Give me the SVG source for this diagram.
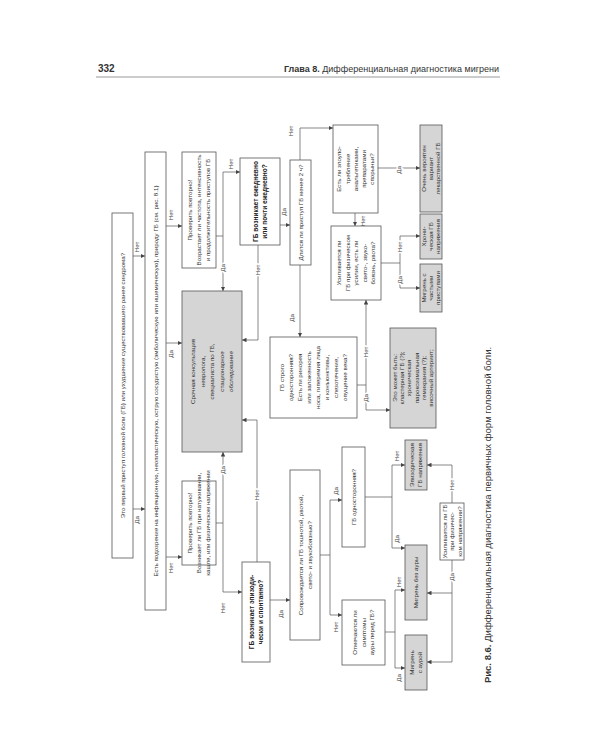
<svg xmlns="http://www.w3.org/2000/svg" width="600" height="750" viewBox="0 0 600 750">
<style>
.bg{fill:#fff}
.b{fill:#fff;stroke:#555;stroke-width:0.8}
.g{fill:#d5d5d5;stroke:#555;stroke-width:0.8}
.t{font-family:"Liberation Sans",Arial,sans-serif;font-size:6.2px;fill:#333;text-anchor:middle}
.tb{font-weight:bold;font-size:6.6px;fill:#222}
.lb{font-family:"Liberation Sans",Arial,sans-serif;font-size:6.2px;fill:#444;text-anchor:middle;stroke:#fff;stroke-width:3;paint-order:stroke}
.c{fill:none;stroke:#555;stroke-width:0.7}
.a{marker-end:url(#ah)}
.hd{font-family:"Liberation Sans",Arial,sans-serif;fill:#333}
</style>
<defs>
<marker id="ah" viewBox="0 0 6 6" refX="6" refY="3" markerWidth="4.5" markerHeight="4.5" markerUnits="userSpaceOnUse" orient="auto">
<path d="M0,0 L6,3 L0,6 z" fill="#444"/>
</marker>
</defs>
<rect class="bg" x="0" y="0" width="600" height="750"/>
<g id="header">
<text class="hd" x="98" y="72" font-size="10" font-weight="bold">332</text>
<text class="hd" x="499" y="72" font-size="9" text-anchor="end"><tspan font-weight="bold">Глава 8.</tspan> Дифференциальная диагностика мигрени</text>
<line x1="96" y1="77" x2="500" y2="77" stroke="#999" stroke-width="1.2"/>
</g>
<g id="connectors">
<path class="c a" d="M133,256 H145"/>
<path class="c a" d="M133,509 H145"/>
<path class="c a" d="M166,226 H182"/>
<path class="c a" d="M166,343 H182"/>
<path class="c a" d="M166,557 H182"/>
<path class="c" d="M216,236 H223"/>
<path class="c a" d="M223,236 V172 H240"/>
<path class="c a" d="M223,236 V291"/>
<path class="c" d="M216,523 H223"/>
<path class="c a" d="M223,523 V452"/>
<path class="c a" d="M223,523 V592 H242"/>
<path class="c a" d="M280,225 H290"/>
<path class="c a" d="M258,245 V340 H242"/>
<path class="c a" d="M257,562 V420 H242"/>
<path class="c a" d="M270,600 H290"/>
<path class="c a" d="M300,160 V128 H333"/>
<path class="c a" d="M300,265 V337"/>
<path class="c a" d="M378,168 H420"/>
<path class="c a" d="M355,213 V226"/>
<path class="c" d="M381,263 H400"/>
<path class="c a" d="M400,263 V236 H420"/>
<path class="c a" d="M400,263 V288 H420"/>
<path class="c" d="M357,385 H366"/>
<path class="c a" d="M366,385 V300"/>
<path class="c a" d="M366,385 V410 H390"/>
<path class="c" d="M320,555 H330"/>
<path class="c a" d="M330,555 V500 H342"/>
<path class="c a" d="M330,555 V615 H342"/>
<path class="c" d="M365,497 H392"/>
<path class="c a" d="M392,497 V465 H405"/>
<path class="c a" d="M392,497 V548 H405"/>
<path class="c" d="M385,632 H395"/>
<path class="c a" d="M395,632 V590 H405"/>
<path class="c a" d="M395,632 V668 H405"/>
<path class="c a" d="M452,503 V465 H427"/>
<path class="c a" d="M452,560 V662 H427"/>
<path class="c a" d="M452,593 H427"/>
<text class="lb" transform="translate(139,247) rotate(-90)">Нет</text>
<text class="lb" transform="translate(139,520) rotate(-90)">Да</text>
<text class="lb" transform="translate(173,215) rotate(-90)">Нет</text>
<text class="lb" transform="translate(173,354) rotate(-90)">Да</text>
<text class="lb" transform="translate(173,568) rotate(-90)">Нет</text>
<text class="lb" transform="translate(233,164) rotate(-90)">Нет</text>
<text class="lb" transform="translate(225,268) rotate(-90)">Да</text>
<text class="lb" transform="translate(225,470) rotate(-90)">Да</text>
<text class="lb" transform="translate(225,608) rotate(-90)">Нет</text>
<text class="lb" transform="translate(286,212) rotate(-90)">Да</text>
<text class="lb" transform="translate(260,270) rotate(-90)">Нет</text>
<text class="lb" transform="translate(259,495) rotate(-90)">Нет</text>
<text class="lb" transform="translate(283,614) rotate(-90)">Да</text>
<text class="lb" transform="translate(293,131) rotate(-90)">Нет</text>
<text class="lb" transform="translate(294,318) rotate(-90)">Да</text>
<text class="lb" transform="translate(401,170) rotate(-90)">Да</text>
<text class="lb" transform="translate(365,221) rotate(-90)">Нет</text>
<text class="lb" transform="translate(402,247) rotate(-90)">Нет</text>
<text class="lb" transform="translate(402,280) rotate(-90)">Да</text>
<text class="lb" transform="translate(368,352) rotate(-90)">Нет</text>
<text class="lb" transform="translate(368,398) rotate(-90)">Да</text>
<text class="lb" transform="translate(338,491) rotate(-90)">Да</text>
<text class="lb" transform="translate(338,627) rotate(-90)">Нет</text>
<text class="lb" transform="translate(399,456) rotate(-90)">Нет</text>
<text class="lb" transform="translate(399,539) rotate(-90)">Да</text>
<text class="lb" transform="translate(401,582) rotate(-90)">Нет</text>
<text class="lb" transform="translate(401,678) rotate(-90)">Да</text>
<text class="lb" transform="translate(454,485) rotate(-90)">Нет</text>
<text class="lb" transform="translate(454,577) rotate(-90)">Да</text>
</g>
<g id="n1"><rect class="b" x="112" y="213" width="21" height="345"/>
<text class="t" font-size="7" transform="translate(122.5,385.5) rotate(-90)" y="2.4">Это первый приступ головной боли (ГБ) или ухудшение существовавшего ранее синдрома?</text></g>
<g id="n2"><rect class="b" x="145" y="152" width="21" height="458"/>
<text class="t" font-size="6" transform="translate(155.5,381) rotate(-90)" y="2.1">Есть подозрение на инфекционную, неопластическую, острую сосудистую (эмболическую или ишемическую), природу ГБ (см. рис. 8.1)</text></g>
<g id="n3"><rect class="b" x="182" y="152" width="34" height="116"/>
<text class="t" transform="translate(199,210) rotate(-90)"><tspan x="0" y="-6.8">Проверить повторно!</tspan><tspan x="0" y="2.2">Возрастает ли частота, интенсивность</tspan><tspan x="0" y="11.2">и продолжительность приступов ГБ</tspan></text></g>
<g id="n4"><rect class="g" x="182" y="291" width="60" height="161"/>
<text class="t" font-size="6.4" transform="translate(212,371.5) rotate(-90)"><tspan x="0" y="-16.8">Срочная консультация</tspan><tspan x="0" y="-7.3">невролога,</tspan><tspan x="0" y="2.2">специалиста по ГБ,</tspan><tspan x="0" y="11.7">стационарное</tspan><tspan x="0" y="21.2">обследование</tspan></text></g>
<g id="n5"><rect class="b" x="182" y="481" width="34" height="84"/>
<text class="t" transform="translate(199,523) rotate(-90)"><tspan x="0" y="-6.8">Проверить повторно!</tspan><tspan x="0" y="2.2">Возникает ли ГБ при натуживании,</tspan><tspan x="0" y="11.2">кашле, или физическом напряжении</tspan></text></g>
<g id="n6"><rect class="b" x="240" y="158" width="40" height="87"/>
<text class="t tb" transform="translate(260,201.5) rotate(-90)"><tspan x="0" y="-2.2">ГБ возникает ежедневно</tspan><tspan x="0" y="6.8">или почти ежедневно?</tspan></text></g>
<g id="n7"><rect class="b" x="242" y="562" width="28" height="100"/>
<text class="t tb" transform="translate(256,612) rotate(-90)"><tspan x="0" y="-2.2">ГБ возникает эпизоди-</tspan><tspan x="0" y="6.8">чески и спонтанно?</tspan></text></g>
<g id="n8"><rect class="b" x="290" y="160" width="21" height="105"/>
<text class="t" transform="translate(300.5,212.5) rotate(-90)" y="2.2">Длится ли приступ ГБ менее 2 ч?</text></g>
<g id="n9"><rect class="b" x="333" y="125" width="45" height="88"/>
<text class="t" transform="translate(355.5,169) rotate(-90)"><tspan x="0" y="-14.2">Есть ли злоупо-</tspan><tspan x="0" y="-6">требление</tspan><tspan x="0" y="2.2">анальгетиками,</tspan><tspan x="0" y="10.4">препаратами</tspan><tspan x="0" y="18.6">спорыньи?</tspan></text></g>
<g id="n10"><rect class="g" x="420" y="125" width="22" height="87"/>
<text class="t" transform="translate(431,168.5) rotate(-90)"><tspan x="0" y="-4.8">Очень вероятен</tspan><tspan x="0" y="2.2">вариант</tspan><tspan x="0" y="9.2">лекарственной ГБ</tspan></text></g>
<g id="n11"><rect class="b" x="331" y="226" width="50" height="74"/>
<text class="t" transform="translate(356,263) rotate(-90)"><tspan x="0" y="-14.8">Усиливается ли</tspan><tspan x="0" y="-6.3">ГБ при физическом</tspan><tspan x="0" y="2.2">усилии, есть ли</tspan><tspan x="0" y="10.7">свето-, звуко-</tspan><tspan x="0" y="19.2">боязнь, рвота?</tspan></text></g>
<g id="n12"><rect class="g" x="420" y="214" width="22" height="45"/>
<text class="t" transform="translate(431,236.5) rotate(-90)"><tspan x="0" y="-4.8">Хрони-</tspan><tspan x="0" y="2.2">ческая ГБ</tspan><tspan x="0" y="9.2">напряжения</tspan></text></g>
<g id="n13"><rect class="g" x="420" y="264" width="22" height="48"/>
<text class="t" transform="translate(431,288) rotate(-90)"><tspan x="0" y="-4.8">Мигрень с</tspan><tspan x="0" y="2.2">частыми</tspan><tspan x="0" y="9.2">приступами</tspan></text></g>
<g id="n14"><rect class="b" x="270" y="337" width="87" height="81"/>
<text class="t" transform="translate(313.5,377.5) rotate(-90)"><tspan x="0" y="-29.3">ГБ строго</tspan><tspan x="0" y="-20.3">односторонняя?</tspan><tspan x="0" y="-11.3">Есть ли ринорея</tspan><tspan x="0" y="-2.3">или заложенность</tspan><tspan x="0" y="6.7">носа, гиперемия лица</tspan><tspan x="0" y="15.7">и конъюнктивы,</tspan><tspan x="0" y="24.7">слезотечение,</tspan><tspan x="0" y="33.7">опущение века?</tspan></text></g>
<g id="n15"><rect class="g" x="390" y="328" width="46" height="100"/>
<text class="t" transform="translate(413,378) rotate(-90)"><tspan x="0" y="-16.3">Это может быть:</tspan><tspan x="0" y="-9">кластерная ГБ (?);</tspan><tspan x="0" y="-1.7">хроническая</tspan><tspan x="0" y="5.6">пароксизмальная</tspan><tspan x="0" y="12.9">гемикрания (?);</tspan><tspan x="0" y="20.2">височный артериит;</tspan></text></g>
<g id="n16"><rect class="b" x="290" y="470" width="30" height="170"/>
<text class="t" font-size="6.4" transform="translate(305,555) rotate(-90)"><tspan x="0" y="-2.3">Сопровождается ли ГБ тошнотой, рвотой,</tspan><tspan x="0" y="6.7">свето- и звукобоязнью?</tspan></text></g>
<g id="n17"><rect class="b" x="342" y="447" width="23" height="100"/>
<text class="t" transform="translate(353.5,497) rotate(-90)" y="2.2">ГБ односторонняя?</text></g>
<g id="n18"><rect class="b" x="342" y="600" width="43" height="65"/>
<text class="t" transform="translate(363.5,632.5) rotate(-90)"><tspan x="0" y="-6.3">Отмечаются ли</tspan><tspan x="0" y="2.2">симптомы</tspan><tspan x="0" y="10.7">ауры перед ГБ?</tspan></text></g>
<g id="n19"><rect class="g" x="405" y="440" width="22" height="50"/>
<text class="t" transform="translate(416,465) rotate(-90)"><tspan x="0" y="-1.8">Эпизодическая</tspan><tspan x="0" y="6.2">ГБ напряжения</tspan></text></g>
<g id="n20"><rect class="g" x="405" y="545" width="22" height="75"/>
<text class="t" transform="translate(416,582.5) rotate(-90)" y="2.2">Мигрень без ауры</text></g>
<g id="n21"><rect class="g" x="405" y="635" width="22" height="55"/>
<text class="t" transform="translate(416,662.5) rotate(-90)"><tspan x="0" y="-1.8">Мигрень</tspan><tspan x="0" y="6.2">с аурой</tspan></text></g>
<g id="n22"><rect class="b" x="440" y="503" width="24" height="57"/>
<text class="t" transform="translate(452,531.5) rotate(-90)"><tspan x="0" y="-5.3">Усиливается ли ГБ</tspan><tspan x="0" y="2.2">при физичес-</tspan><tspan x="0" y="9.7">ком напряжении?</tspan></text></g>
<g id="caption">
<text class="hd" font-size="9.5" text-anchor="middle" transform="translate(491,515) rotate(-90)"><tspan font-weight="bold">Рис. 8.6.</tspan> Дифференциальная диагностика первичных форм головной боли.</text>
</g>
</svg>
